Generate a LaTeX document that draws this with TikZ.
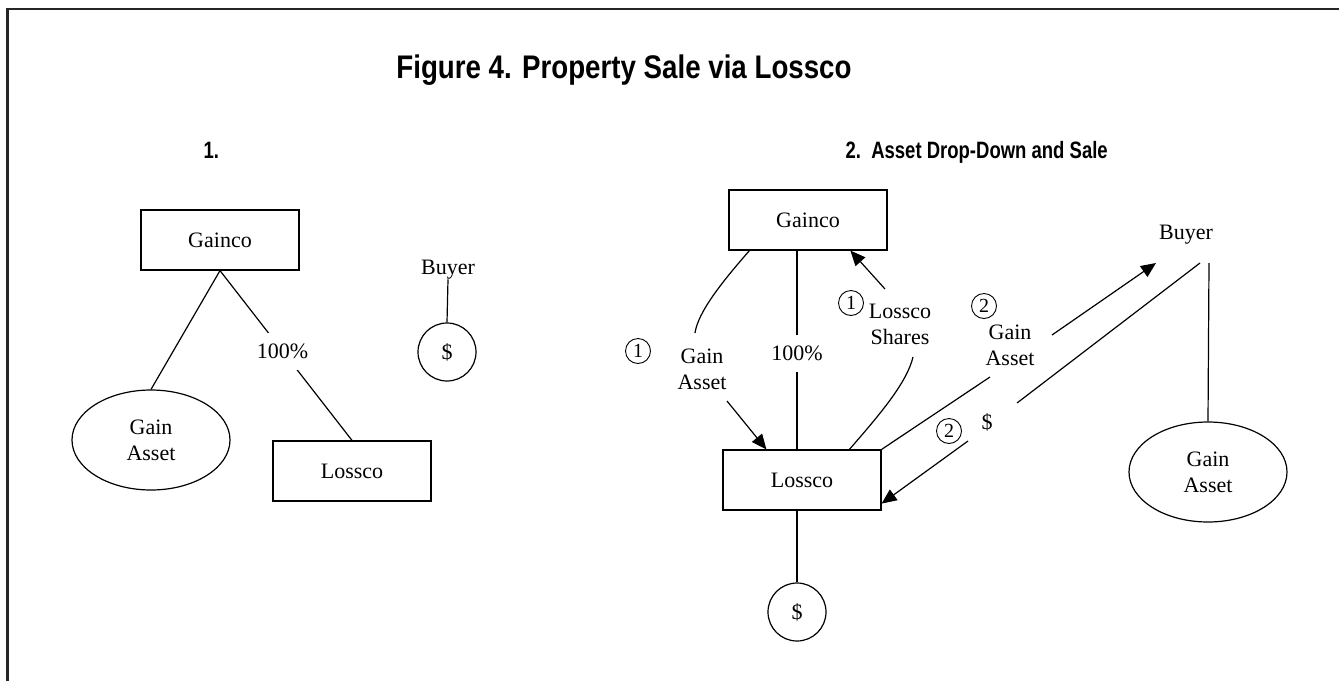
\documentclass[tikz,border=0pt]{standalone}
\usepackage{fontspec}
\setmainfont{Liberation Serif}
\newfontfamily\headfont{Liberation Sans}
\usetikzlibrary{arrows.meta,shapes.geometric}
\begin{document}
\begin{tikzpicture}[x=1pt,y=-1pt, line width=1.2pt,
  every node/.style={font=\fontsize{22}{26}\selectfont, inner sep=0pt},
  boxnode/.style={draw, minimum width=158pt, minimum height=60pt},
  ellnode/.style={draw, ellipse, minimum width=158pt, minimum height=100pt, align=center},
  circnode/.style={draw, circle, minimum size=58pt},
  lbl/.style={align=center},
  pct/.style={fill=white, inner xsep=2pt, inner ysep=11pt},
  num/.style={draw, circle, line width=0.9pt, minimum size=25pt, font=\fontsize{20}{20}\selectfont},
  head/.style={font=\headfont\bfseries\fontsize{18.5}{20}\selectfont, anchor=base west},
  arr/.style={-{Triangle[length=15pt,width=13pt]}}]
\useasboundingbox (0,0) rectangle (1339,681);
% frame
\draw[line width=2.5pt, black!85] (1339,9) -- (7.5,9) -- (7.5,681);
% titles
\node[font=\headfont\bfseries\fontsize{27.7}{30}\selectfont, anchor=base] (title) at (624,78) {\scalebox{1}[1.18]{Figure 4. Property Sale via Lossco}};
\node[head] (h1) at (203,158) {\scalebox{1}[1.28]{1.}};
\node[head] (h2) at (845,158) {\scalebox{1}[1.28]{2.\ \ Asset Drop-Down and Sale}};
% panel 1
\node[boxnode] (g1) at (220,240) {Gainco};
\node[ellnode] (a1) at (151,440) {Gain\\Asset};
\node[boxnode] (l1) at (352,471) {Lossco};
\node[anchor=base] (b1) at (448,274) {Buyer};
\node[circnode] (d1) at (447,352) {\$};
\draw (g1.south) -- (a1.north);
\draw (g1.south) -- (l1.north) node[pct, pos=0.474] (p1) {100\%};
\draw (b1.south) -- (d1.north);
% panel 2
\node[boxnode] (g2) at (808,220) {Gainco};
\node[boxnode] (l2) at (802,480) {Lossco};
\node[circnode] (d2) at (797,612) {\$};
\node[anchor=base] (b2) at (1186,239) {Buyer};
\node[ellnode] (a2) at (1208,472) {Gain\\Asset};
\draw (g2.south -| d2) -- (l2.north -| d2) node[pct, pos=0.518] (p2) {100\%};
\draw (l2.south -| d2) -- (d2.north);
% left: Gain Asset drop-down
\node[lbl] (ga2) at (702,369) {Gain\\Asset};
\node[num] (n1a) at (638,351) {1};
\coordinate (c1e) at (695,333);
\coordinate (c1f) at (727,401);
\draw ([xshift=21pt]g2.south west) .. controls (722,282) and (698,312) .. (c1e);
\draw[arr] (c1f) -- ([xshift=44pt]l2.north west);
% Lossco shares
\node[lbl] (ls) at (900,324) {Lossco\\Shares};
\node[num] (n1b) at (851,303) {1};
\coordinate (c2e) at (913,357);
\coordinate (c2f) at (885,289);
\draw ([xshift=127pt]l2.north west) .. controls (882,412) and (907,382) .. (c2e);
\draw[arr] (c2f) -- ([xshift=122pt]g2.south west);
% Gain asset to buyer
\node[lbl] (ga3) at (1010,345) {Gain\\Asset};
\node[num] (n2a) at (984,306) {2};
\coordinate (c3e) at (990,377);
\coordinate (c3f) at (1052,335);
\coordinate (c3t) at (1156,263);
\draw (l2.north east) -- (c3e);
\draw[arr] (c3f) -- (c3t);
% $ from buyer
\node (dl) at (987,422) {\$};
\node[num] (n2b) at (949,431) {2};
\coordinate (c4s) at (1200,263);
\coordinate (c4e) at (1017,403);
\coordinate (c4f) at (968,441);
\draw (c4s) -- (c4e);
\draw[arr] (c4f) -- ([yshift=7pt]l2.south east);
% buyer to gain asset
\coordinate (bv) at (1209,263);
\draw (bv) -- (a2.north);
\end{tikzpicture}
\end{document}
